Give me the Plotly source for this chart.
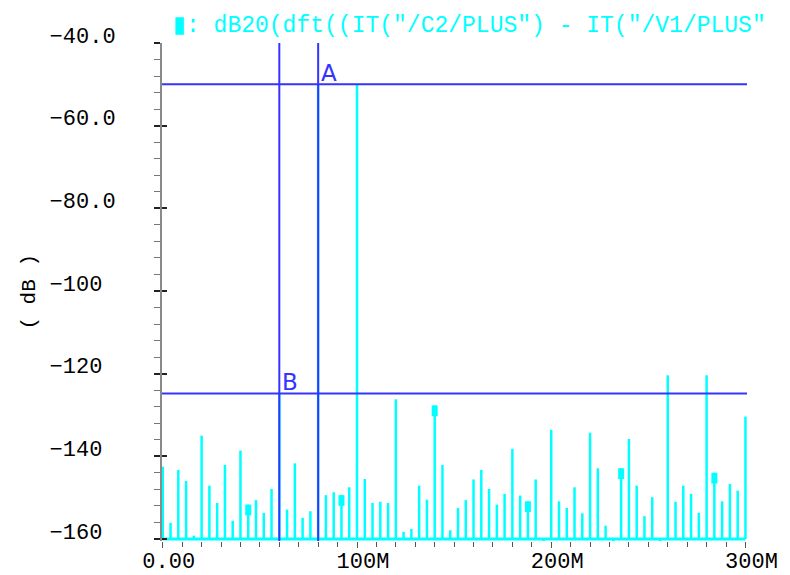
import plotly.graph_objects as go

# DFT bins (MHz) and magnitude in dB
freq_mhz = [0, 4, 8, 12, 16, 20, 24, 28, 32, 36, 40, 44, 48, 52, 56, 60, 64, 68, 72, 76,
            80, 84, 88, 92, 96, 100, 104, 108, 112, 116, 120, 124, 128, 132, 136, 140,
            144, 148, 152, 156, 160, 164, 168, 172, 176, 180, 184, 188, 192, 196, 200,
            204, 208, 212, 216, 220, 224, 228, 232, 236, 240, 244, 248, 252, 256, 260,
            264, 268, 272, 276, 280, 284, 288, 292, 296, 300]
level_db = [-142.5, -156.1, -143.3, -146.0, -159.2, -135.0, -147.1, -151.3, -142.1, -155.6,
            -138.6, -151.7, -150.6, -153.7, -147.9, -124.8, -152.9, -141.7, -154.9, -153.3,
            -50.0, -149.4, -148.7, -149.4, -147.5, -50.0, -145.5, -151.3, -151.0, -151.3,
            -126.2, -158.3, -157.6, -147.1, -150.5, -127.7, -142.1, -157.9, -152.5, -150.6,
            -145.6, -143.3, -147.9, -151.7, -149.1, -138.2, -149.5, -150.9, -145.6, -172.0,
            -133.6, -150.9, -152.5, -147.5, -153.8, -134.3, -142.9, -156.8, -171.0, -142.9,
            -135.8, -147.1, -154.5, -149.9, -170.0, -120.4, -151.0, -147.1, -149.1, -153.7,
            -120.4, -144.0, -150.9, -146.7, -148.3, -130.4]

# bins carrying the trace symbol
symbol_mhz = [44, 92, 140, 188, 236, 284]

# cursors: (frequency MHz, level dB)
cursor_a = (80, -50.0)
cursor_b = (60, -124.8)

y_tick_vals = [-40, -60, -80, -100, -120, -140, -160]
y_tick_text = ["−40.0", "−60.0", "−80.0", "−100", "−120", "−140", "−160"]
x_tick_vals = [0, 100, 200, 300]
x_tick_text = ["0.00", "100M", "200M", "300M"]

FLOOR = -160.0
CYAN = "#00ffff"
BLUE = "#3434ff"
MONO = "Liberation Mono"

# stick plot: one vertical segment per bin, from the floor up to the level
sx, sy = [], []
for f, v in zip(freq_mhz, level_db):
    sx += [f, f, None]
    sy += [FLOOR, v, None]

# trace symbols sit on top of their sticks
mx, my = [], []
lookup = dict(zip(freq_mhz, level_db))
for f in symbol_mhz:
    v = lookup[f]
    mx += [f, f, None]
    my += [v, v - 2.6, None]

fig = go.Figure()
fig.add_trace(go.Scatter(x=sx, y=sy, mode="lines", line=dict(color=CYAN, width=2.5),
                         hoverinfo="skip", showlegend=False))
fig.add_trace(go.Scatter(x=[freq_mhz[0], freq_mhz[-1]], y=[FLOOR, FLOOR], mode="lines",
                         line=dict(color=CYAN, width=3), hoverinfo="skip", showlegend=False))
fig.add_trace(go.Scatter(x=mx, y=my, mode="lines", line=dict(color=CYAN, width=6),
                         hoverinfo="skip", showlegend=False))
fig.add_trace(go.Scatter(x=[None], y=[None], yaxis="y2", hoverinfo="skip", showlegend=False))

# cursor lines
for f, v in (cursor_a, cursor_b):
    fig.add_shape(type="line", xref="x", yref="paper", x0=f, x1=f, y0=0, y1=1,
                  line=dict(color=BLUE, width=2))
    fig.add_shape(type="line", xref="paper", yref="y", x0=0, x1=1, y0=v, y1=v,
                  line=dict(color=BLUE, width=2))

for name, (f, v) in (("A", cursor_a), ("B", cursor_b)):
    fig.add_annotation(x=f, y=v, xref="x", yref="y", text=name, showarrow=False,
                       xanchor="left", yanchor="bottom", xshift=1, yshift=-4,
                       font=dict(family="DejaVu Sans", size=23, color=BLUE))

fig.add_annotation(x=-0.228, y=0.5, xref="paper", yref="paper", text="( dB )",
                   textangle=-90, showarrow=False, xanchor="center", yanchor="middle",
                   font=dict(family=MONO, size=21, color="black"))

pad = "\u00a0"
fig.update_layout(
    width=790, height=575, autosize=False,
    margin=dict(l=161.7, r=43.2, t=42.7, b=34.1),
    paper_bgcolor="white", plot_bgcolor="white",
    showlegend=False,
    title=dict(text="▮: dB20(dft((IT(\"/C2/PLUS\") - IT(\"/V1/PLUS\"",
               x=173 / 790, xanchor="left", y=1 - 24 / 575, yanchor="middle",
               xref="container", yref="container",
               font=dict(family=MONO, size=23, color=CYAN)),
    xaxis=dict(range=[-0.4, 300.8], tickmode="array", tickvals=x_tick_vals,
               ticktext=x_tick_text, ticks="outside", ticklen=6, tickwidth=1,
               tickcolor="#555", showgrid=False, zeroline=False, showline=False,
               automargin=False,
               minor=dict(tickmode="linear", tick0=0, dtick=10, ticks="outside",
                          ticklen=5, tickwidth=1, tickcolor="#555"),
               tickfont=dict(family=MONO, size=22, color="black"),
               ticklabelshift=6, ticklabelstandoff=-6),
    yaxis=dict(range=[-160.5, -40], tickmode="array", tickvals=y_tick_vals,
               ticktext=[t + pad * (5 - len(t)) for t in y_tick_text],
               ticks="outside", ticklen=6, tickwidth=2, tickcolor="#222",
               showgrid=False, zeroline=False, showline=True, linecolor="#8a8a8a",
               linewidth=2, automargin=False,
               minor=dict(tickmode="linear", tick0=-160, dtick=4, ticks="outside",
                          ticklen=6, tickwidth=1, tickcolor="#777"),
               tickfont=dict(family=MONO, size=22, color="black"),
               ticklabelshift=-8, ticklabelstandoff=34),
    yaxis2=dict(overlaying="y", matches="y", anchor="x", side="left",
                tickmode="array", tickvals=y_tick_vals, ticks="inside", ticklen=5,
                tickwidth=2, tickcolor="#222", showticklabels=False,
                showgrid=False, zeroline=False, showline=False, automargin=False),
)

fig.write_html("out.html")
